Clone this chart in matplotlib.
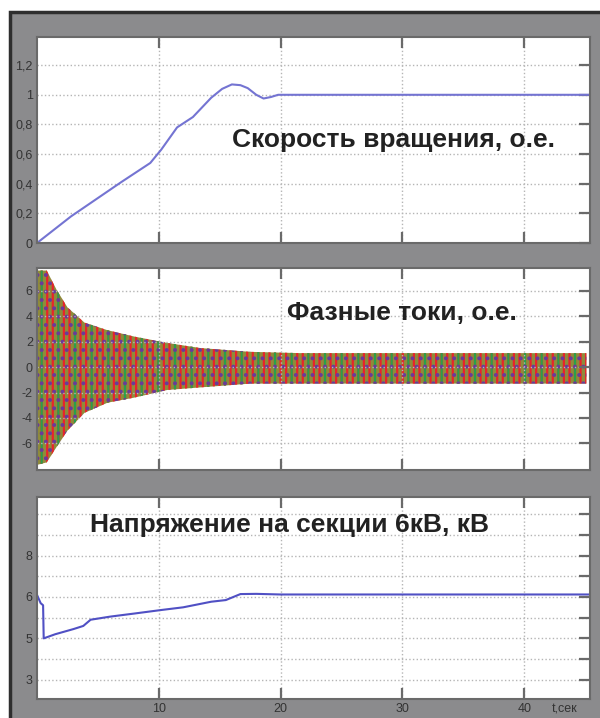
import numpy as np
import matplotlib
matplotlib.use("Agg")
import matplotlib.pyplot as plt
from matplotlib.patches import Rectangle

plt.rcParams['font.family'] = ['Liberation Sans', 'DejaVu Sans']
plt.rcParams['hatch.linewidth'] = 1.6

# speed, p.u.
speed_t = [0, 2.8, 6.9, 9.3, 10.2, 11.5, 12.8, 14.3, 15.2, 16.0, 16.7, 17.3, 18.0, 18.6, 19.2, 19.8, 20.5, 45.4]
speed_v = [0, 0.18, 0.41, 0.54, 0.63, 0.78, 0.85, 0.98, 1.04, 1.07, 1.065, 1.045, 1.0, 0.975, 0.985, 1.0, 1.0, 1.0]

# phase current envelope, p.u.
cur_t = [0, 0.8, 1.6, 2.5, 3.9, 5.8, 8.0, 10.7, 13.4, 17.5, 21.6, 45.1]
cur_hi = [7.6, 7.6, 6.1, 4.7, 3.5, 2.9, 2.4, 1.9, 1.5, 1.2, 1.1, 1.1]
cur_lo = [-7.7, -7.5, -6.3, -5.0, -3.6, -2.8, -2.4, -1.8, -1.6, -1.3, -1.3, -1.3]

# bus voltage (axis grid units)
volt_t = [0, 0.3, 0.5, 0.55, 1.5, 3.0, 3.8, 4.4, 6.0, 8.0, 10.2, 12.0, 14.3, 15.5, 16.7, 18.0, 20.0, 45.4]
volt_v = [6.1, 5.7, 5.6, 4.0, 4.2, 4.45, 4.6, 4.9, 5.05, 5.2, 5.37, 5.5, 5.77, 5.85, 6.14, 6.15, 6.12, 6.12]
volt_ticks = [2, 3, 4, 5, 6, 7, 8, 9, 10]
volt_labels = ['3', '', '5', '', '6', '', '8', '', '']

x_ticks = [10, 20, 30, 40]

W, H = 600, 718
fig = plt.figure(figsize=(W / 100, H / 100), dpi=100)
fig.patch.set_facecolor('white')
fig.add_artist(Rectangle((10 / W, -0.01), 592 / W, (H - 12) / H + 0.01,
                         transform=fig.transFigure, facecolor='#8b8b8d',
                         edgecolor='#2e2e2e', lw=2.5, zorder=0))


def make_ax(top, bottom):
    ax = fig.add_axes([37 / W, (H - bottom) / H, 553 / W, (bottom - top) / H])
    ax.set_facecolor('white')
    for s in ax.spines.values():
        s.set_color('#6a6a6a')
        s.set_linewidth(1.5)
    ax.grid(True, ls=':', color='#b5b5b5', lw=1.0)
    ax.tick_params(direction='in', length=8, width=1.6, color='#6a6a6a',
                   top=True, right=True, left=False, labelsize=9,
                   labelcolor='#333333', pad=3)
    ax.set_xlim(0, 45.4)
    ax.set_xticks(x_ticks)
    return ax


title_kw = dict(fontsize=19, fontweight='bold', color='#222222', ha='center', va='center')

# panel 1: rotational speed
ax1 = make_ax(37, 243)
ax1.plot(speed_t, speed_v, color='#7474d2', lw=1.5)
ax1.set_ylim(0, 1.39)
ax1.set_yticks([0, 0.2, 0.4, 0.6, 0.8, 1.0, 1.2])
ax1.set_yticklabels(['0', '0,2', '0,4', '0,6', '0,8', '1', '1,2'])
ax1.tick_params(labelbottom=False)
ax1.text(0.645, 0.5, 'Скорость вращения, о.е.', transform=ax1.transAxes, **title_kw)

# panel 2: phase currents
ax2 = make_ax(268, 470)
ax2.fill_between(cur_t, cur_lo, cur_hi, facecolor='#8f8b3a', edgecolor='none', lw=0)
ax2.fill_between(cur_t, cur_lo, cur_hi, facecolor='none', edgecolor='#e8242a', hatch='|||', lw=0)
ax2.fill_between(cur_t, cur_lo, cur_hi, facecolor='none', edgecolor='#2aa04a', hatch='|', lw=0)
ax2.fill_between(cur_t, cur_lo, cur_hi, facecolor='none', edgecolor='#6a3a9a', hatch='..', lw=0)
ax2.set_ylim(-8.1, 7.8)
ax2.set_yticks([-6, -4, -2, 0, 2, 4, 6])
ax2.set_yticklabels(['-6', '-4', '-2', '0', '2', '4', '6'])
ax2.tick_params(labelbottom=False)
ax2.text(0.66, 0.777, 'Фазные токи, о.е.', transform=ax2.transAxes, **title_kw)

# panel 3: bus voltage
ax3 = make_ax(497, 699)
ax3.plot(volt_t, volt_v, color='#5050c4', lw=1.5)
ax3.set_ylim(1.07, 10.83)
ax3.set_yticks(volt_ticks)
ax3.set_yticklabels(volt_labels)
ax3.set_xticklabels([str(v) for v in x_ticks])
ax3.text(43.3, -0.05, 't,сек', transform=ax3.get_xaxis_transform(),
         fontsize=9, color='#333333', ha='center', va='center')
ax3.text(0.457, 0.861, 'Напряжение на секции 6кВ, кВ', transform=ax3.transAxes, **title_kw)

fig.savefig('out.png', dpi=100)
